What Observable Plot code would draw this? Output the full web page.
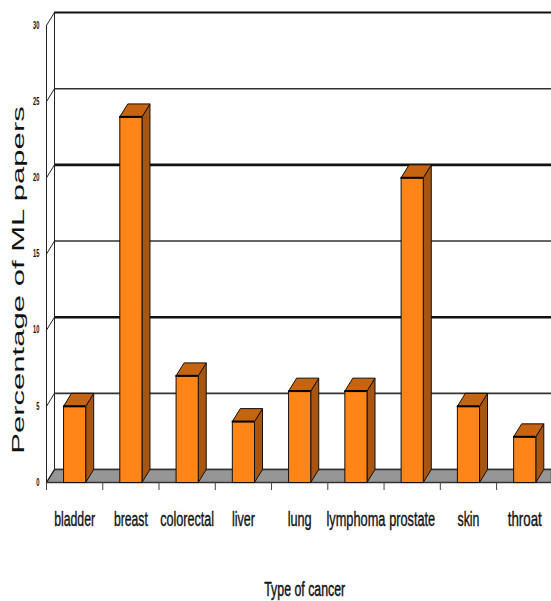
<!DOCTYPE html>
<html>
<head>
<meta charset="utf-8">
<script src="https://cdn.jsdelivr.net/npm/d3@7"></script>
<script src="https://cdn.jsdelivr.net/npm/@observablehq/plot@0.6"></script>
<style>
  html, body { margin: 0; padding: 0; background: #fff; overflow: hidden; }
</style>
</head>
<body>
<div id="chart"></div>
<script>
// Share of machine-learning papers by cancer type
const cancers = ["bladder", "breast", "colorectal", "liver", "lung", "lymphoma", "prostate", "skin", "throat"];
const percentages = [5, 24, 7, 4, 6, 6, 20, 5, 3];
const labelWidths = [41, 34, 54, 23, 24, 59, 46, 22, 34];
const yTicks = [0, 5, 10, 15, 20, 25, 30];
const heavyGrid = [10, 20];

// Pseudo-3D extrusion, in data units of each scale
const depthX = 0.142;
const depthY = 0.85;
const halfBar = 0.197;
const xMin = -0.5;
const xMax = 8.476;
const fontFamily = "'Liberation Sans', sans-serif";

const closed = pts => [...pts, pts[0]];
const polys = (fn) => cancers.flatMap((name, i) =>
  closed(fn(i, percentages[i])).map(([x, y]) => ({ name, x, y })));

const fronts = polys((i, v) => [[i - halfBar, 0], [i + halfBar, 0], [i + halfBar, v], [i - halfBar, v]]);
const sides = polys((i, v) => [
  [i + halfBar, 0], [i + halfBar + depthX, depthY], [i + halfBar + depthX, v + depthY], [i + halfBar, v]]);
const tops = polys((i, v) => [
  [i - halfBar, v], [i + halfBar, v], [i + halfBar + depthX, v + depthY], [i - halfBar + depthX, v + depthY]]);

const wallX = xMin + depthX;
const floor = closed([[xMin, 0], [wallX, depthY], [xMax, depthY], [xMax, 0]]).map(([x, y]) => ({ x, y }));
const diagonals = yTicks.flatMap(v => [{ v, x: xMin, y: v }, { v, x: wallX, y: v + depthY }]);
const boundaries = d3.range(0, 10).map(k => xMin + k);

// Scales each text of a mark along its own direction to reach a given length
const measure = document.createElement("canvas").getContext("2d");
const fitted = (lengthOf, fontSize, weight = "normal") => (index, scales, values, dims, ctx, next) => {
  const g = next(index, scales, values, dims, ctx);
  measure.font = `${weight} ${fontSize}px ${fontFamily}`;
  d3.select(g).selectAll("text").each(function () {
    const factor = lengthOf(this.textContent) / measure.measureText(this.textContent).width;
    this.setAttribute("transform", `${this.getAttribute("transform") || ""} scale(${factor},1)`);
  });
  return g;
};

const chart = Plot.plot({
  width: 551,
  height: 601,
  marginLeft: 46,
  marginRight: 0,
  marginTop: 12,
  marginBottom: 119,
  style: { background: "#fff", fontFamily },
  x: { type: "linear", domain: [xMin, xMax], axis: null },
  y: { domain: [0, 30 + depthY], axis: null },
  marks: [
    // back wall
    Plot.ruleY(yTicks, {
      y: d => d + depthY, x1: wallX, x2: xMax,
      stroke: d => d === 30 || heavyGrid.includes(d) ? "#111" : "#333",
      strokeWidth: d => heavyGrid.includes(d) ? 2.6 : d === 30 ? 2 : 1.6
    }),
    // floor
    Plot.line(floor, { x: "x", y: "y", fill: "#969696", stroke: "#333", strokeWidth: 1.4 }),
    // side wall
    Plot.ruleX([xMin], { y1: 0, y2: 30, stroke: "#222", strokeWidth: 1 }),
    Plot.ruleX([wallX], { y1: depthY, y2: 30 + depthY, stroke: "#222", strokeWidth: 1 }),
    Plot.line(diagonals, { x: "x", y: "y", z: "v", stroke: "#222", strokeWidth: 1 }),
    // bars
    Plot.line(sides, { x: "x", y: "y", z: "name", fill: "#A85511", stroke: "#111", strokeWidth: 1 }),
    Plot.line(tops, { x: "x", y: "y", z: "name", fill: "#C7640F", stroke: "#111", strokeWidth: 1 }),
    Plot.line(fronts, { x: "x", y: "y", z: "name", fill: "#FF8519", stroke: "#111", strokeWidth: 1 }),
    Plot.ruleY(percentages, {
      y: d => d,
      x1: (d, i) => i - halfBar, x2: (d, i) => i + halfBar,
      stroke: "#000", strokeWidth: 2
    }),
    // axes
    Plot.axisX({ ticks: boundaries, tickFormat: () => "", tickSize: 8, stroke: "#444", label: null }),
    Plot.text(yTicks, {
      y: d => d, text: d => String(d), frameAnchor: "left", textAnchor: "end", dx: -7,
      fontSize: 10, fontWeight: "bold", fill: "#111",
      render: fitted(t => t.length * 3.2, 10, "bold")
    }),
    Plot.text(cancers, {
      x: (d, i) => i, y: () => 0, text: d => d, dy: 37,
      fontSize: 21, fill: "#111", stroke: "#111", strokeWidth: 0.4,
      render: fitted(t => labelWidths[cancers.indexOf(t)], 21)
    }),
    Plot.text(["Type of cancer"], {
      x: [4.09], y: [0], dy: 107, fontSize: 21, fill: "#111", stroke: "#111", strokeWidth: 0.5,
      render: fitted(() => 81, 21)
    }),
    Plot.text(["Percentage of ML papers"], {
      frameAnchor: "left", dx: -28, y: [13.29], rotate: -90, textAnchor: "middle",
      fontSize: 17, fill: "#111",
      render: fitted(() => 349, 17)
    })
  ]
});

document.getElementById("chart").append(chart);
</script>
</body>
</html>
